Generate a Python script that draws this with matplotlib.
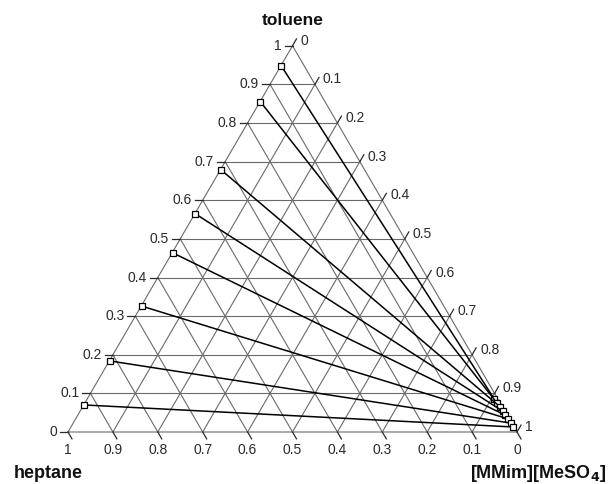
import matplotlib.pyplot as plt
import numpy as np

# tie-line end points (mass fractions)
raff_tol = [0.948, 0.855, 0.679, 0.565, 0.464, 0.326, 0.184, 0.070]
raff_il = [0.001, 0.001, 0.001, 0.001, 0.001, 0.001, 0.001, 0.001]
ext_tol = [0.086, 0.075, 0.065, 0.054, 0.044, 0.034, 0.023, 0.013]
ext_il = [0.906, 0.918, 0.930, 0.941, 0.951, 0.963, 0.975, 0.985]

ticks = [round(0.1 * i, 1) for i in range(11)]
tick_lbls = ['0'] + ['%.1f' % v for v in ticks[1:-1]] + ['1']

S3 = np.sqrt(3) / 2


def xy(il, tol):
    il = np.asarray(il, float)
    tol = np.asarray(tol, float)
    return il + tol / 2, tol * S3


plt.rcParams['font.family'] = ['Liberation Sans', 'DejaVu Sans']
fig = plt.figure(figsize=(6.11, 4.85), dpi=100)
ax = fig.add_axes([0, 0, 1, 1])
sx, sy = 449.0, 446.0
ax.set_xlim(-68 / sx, (611 - 68) / sx)
ax.set_ylim(-52 / sy, 433 / sy)
ax.axis('off')

gcol = '#6a6a6a'
glw = 0.8
# grid
for v in ticks[1:-1]:
    # constant toluene
    x, y = xy([0, 1 - v], [v, v])
    ax.plot(x, y, color=gcol, lw=glw)
    # constant IL
    x, y = xy([v, v], [0, 1 - v])
    ax.plot(x, y, color=gcol, lw=glw)
    # constant heptane
    x, y = xy([1 - v, 0], [0, 1 - v])
    ax.plot(x, y, color=gcol, lw=glw)

# outline
x, y = xy([0, 1, 0, 0], [0, 0, 1, 0])
ax.plot(x, y, color=gcol, lw=glw)

tl = 8 / sx
tcol = '#2a2a2a'
fs = 10
for v, lab in zip(ticks, tick_lbls):
    # left edge: toluene
    x, y = xy(0, v)
    ax.plot([x - tl, x], [y, y], color=tcol, lw=0.9)
    ax.text(x - tl - 3 / sx, y + 1 / sy, lab, ha='right', va='center', fontsize=fs, color=tcol)
    # bottom: heptane
    x, y = xy(1 - v, 0)
    ax.plot([x, x + tl * 0.5], [y, y - tl * S3], color=tcol, lw=0.9)
    ax.text(x, y - 17 / sy, lab, ha='center', va='center', fontsize=fs, color=tcol)
    # right edge: IL
    x, y = xy(v, 1 - v)
    ax.plot([x, x + tl * 0.5], [y, y + tl * S3], color=tcol, lw=0.9)
    ax.text(x + 8 / sx, y + 6 / sy, lab, ha='left', va='center', fontsize=fs, color=tcol)

# tie lines
for i in range(len(raff_tol)):
    x, y = xy([raff_il[i], ext_il[i]], [raff_tol[i], ext_tol[i]])
    ax.plot(x, y, color='black', lw=1.1)
    ax.plot(x, y, ls='none', marker='s', ms=5, mfc='white', mec='black', mew=0.9)

ax.text(0.5, S3 + 26 / sy, 'toluene', ha='center', va='center', fontsize=12.5,
        fontweight='bold', color='#111111')
ax.text(-20 / sx, -41 / sy, 'heptane', ha='center', va='center', fontsize=13,
        fontweight='bold', color='#111111')
ax.text(470 / sx, -41 / sy, '[MMim][MeSO$_\\mathbf{4}$]', ha='center', va='center', fontsize=13,
        fontweight='bold', color='#111111')

fig.savefig('out.png', dpi=100)
